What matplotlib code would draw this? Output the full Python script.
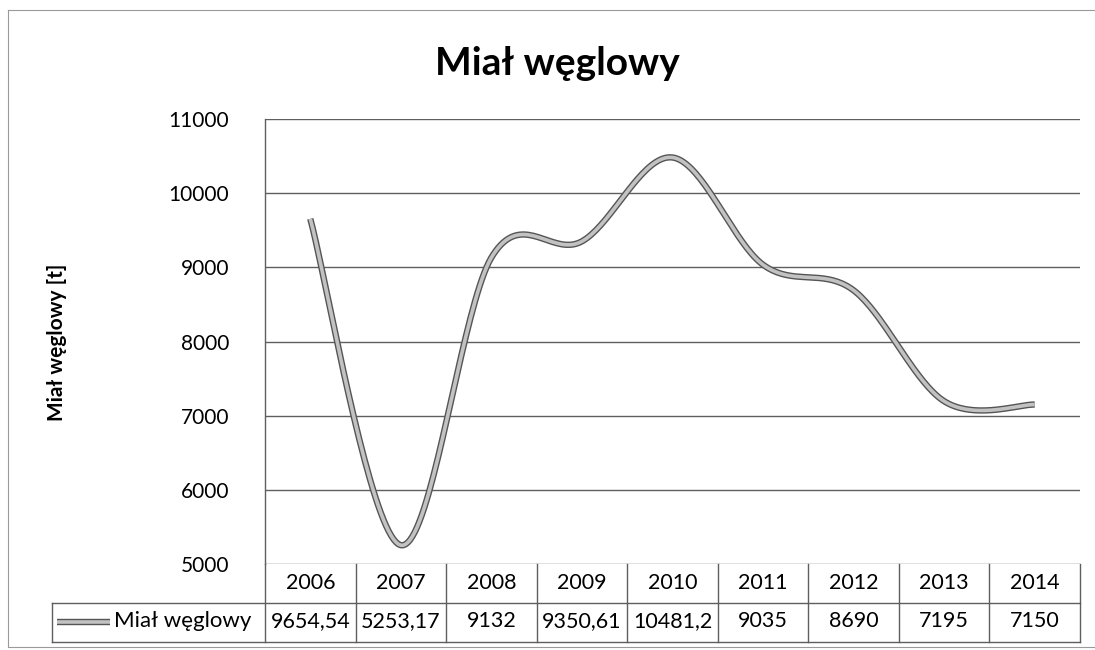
import numpy as np
import matplotlib
matplotlib.use("Agg")
import matplotlib.pyplot as plt
from matplotlib.lines import Line2D

plt.rcParams["font.family"] = ["Lato", "DejaVu Sans"]

YEARS = ["2006", "2007", "2008", "2009", "2010", "2011", "2012", "2013", "2014"]
VALUES = [9654.54, 5253.17, 9132, 9350.61, 10481.2, 9035, 8690, 7195, 7150]
VALUE_LABELS = ["9654,54", "5253,17", "9132", "9350,61", "10481,2",
                "9035", "8690", "7195", "7150"]
YTICKS = [5000, 6000, 7000, 8000, 9000, 10000, 11000]
SERIES = "Miał węglowy"
TITLE = "Miał węglowy"
YLABEL = "Miał węglowy [t]"

W, H = 1095, 650
GRID = "#5e5e5e"
LINE_DARK = "#555555"
LINE_LIGHT = "#c2c2c2"


def smooth(xs, ys, n=40):
    """Bezier segments with Catmull-Rom control points (Excel-like smoothed line)."""
    p = np.column_stack([xs, ys]).astype(float)
    pe = np.vstack([p[0], p, p[-1]])
    t = np.linspace(0, 1, n)[:, None]
    segs = []
    for i in range(len(p) - 1):
        p0, p1, p2, p3 = pe[i], pe[i + 1], pe[i + 2], pe[i + 3]
        c1 = p1 + (p2 - p0) / 6
        c2 = p2 - (p3 - p1) / 6
        seg = (1 - t) ** 3 * p1 + 3 * (1 - t) ** 2 * t * c1 + 3 * (1 - t) * t ** 2 * c2 + t ** 3 * p2
        segs.append(seg if i == 0 else seg[1:])
    pts = np.vstack(segs)
    return pts[:, 0], pts[:, 1]


def fx(px):
    return px / W


def fy(px):
    return 1 - px / H


fig = plt.figure(figsize=(W / 100, H / 100), dpi=100)
ax_left, ax_right, ax_top, ax_bot = 265, 1080, 119, 564
ax = fig.add_axes([fx(ax_left), fy(ax_bot), (ax_right - ax_left) / W, (ax_bot - ax_top) / H])

x = np.arange(len(YEARS))
sx, sy = smooth(x, VALUES)
ax.plot(sx, sy, color=LINE_DARK, lw=4.6, solid_capstyle="butt", zorder=3)
ax.plot(sx, sy, color=LINE_LIGHT, lw=2.6, solid_capstyle="butt", zorder=4)

ax.set_xlim(-0.5, len(YEARS) - 0.5)
ax.set_ylim(YTICKS[0], YTICKS[-1])
ax.set_yticks(YTICKS)
ax.set_xticks([])
ax.yaxis.grid(True, color=GRID, lw=1.0)
ax.set_axisbelow(True)
for side in ("top", "right", "bottom"):
    ax.spines[side].set_visible(False)
ax.spines["left"].set_color(GRID)
ax.spines["left"].set_linewidth(1.0)
ax.tick_params(axis="y", length=0, labelsize=15, pad=26)
for lab in ax.get_yticklabels():
    lab.set_clip_on(False)

fig.text(fx(57), fy(342), YLABEL, rotation=90, ha="center", va="center",
         fontsize=15, fontweight="bold")
fig.text(fx(557), fy(75), TITLE, ha="center", va="baseline",
         fontsize=28, fontweight="bold")

# data table under the plot
to_fig = ax.transData + fig.transFigure.inverted()
bounds = [to_fig.transform((b, YTICKS[0]))[0] for b in np.arange(len(YEARS) + 1) - 0.5]
row_top, row_mid, row_bot = 564, 603, 642
tab_left = fx(52)


def hline(x0, x1, ypx):
    fig.add_artist(Line2D([x0, x1], [fy(ypx), fy(ypx)], color=GRID, lw=1.0))


def vline(xf, y0, y1):
    fig.add_artist(Line2D([xf, xf], [fy(y0), fy(y1)], color=GRID, lw=1.0))


hline(tab_left, bounds[-1], row_mid)
hline(tab_left, bounds[-1], row_bot)
for b in bounds:
    vline(b, row_top, row_bot)
vline(tab_left, row_mid, row_bot)

for i, (yr, lab) in enumerate(zip(YEARS, VALUE_LABELS)):
    cx = (bounds[i] + bounds[i + 1]) / 2
    fig.text(cx, fy(583), yr, ha="center", va="center", fontsize=15.5)
    fig.text(cx, fy(621), lab, ha="center", va="center", fontsize=15.5)

# legend key in the table
fig.add_artist(Line2D([fx(57), fx(110)], [fy(622), fy(622)], color=LINE_DARK, lw=4.6,
                      solid_capstyle="butt"))
fig.add_artist(Line2D([fx(57), fx(110)], [fy(622), fy(622)], color=LINE_LIGHT, lw=2.6,
                      solid_capstyle="butt"))
fig.text(fx(114), fy(621), SERIES, ha="left", va="center", fontsize=16)

# chart area border (left / top / bottom)
fig.add_artist(Line2D([fx(8), fx(8)], [fy(10), fy(647)], color="#9a9a9a", lw=0.8))
fig.add_artist(Line2D([fx(8), fx(1095)], [fy(10), fy(10)], color="#9a9a9a", lw=0.8))
fig.add_artist(Line2D([fx(8), fx(1095)], [fy(647), fy(647)], color="#9a9a9a", lw=0.8))

fig.savefig("out.png", dpi=100)
